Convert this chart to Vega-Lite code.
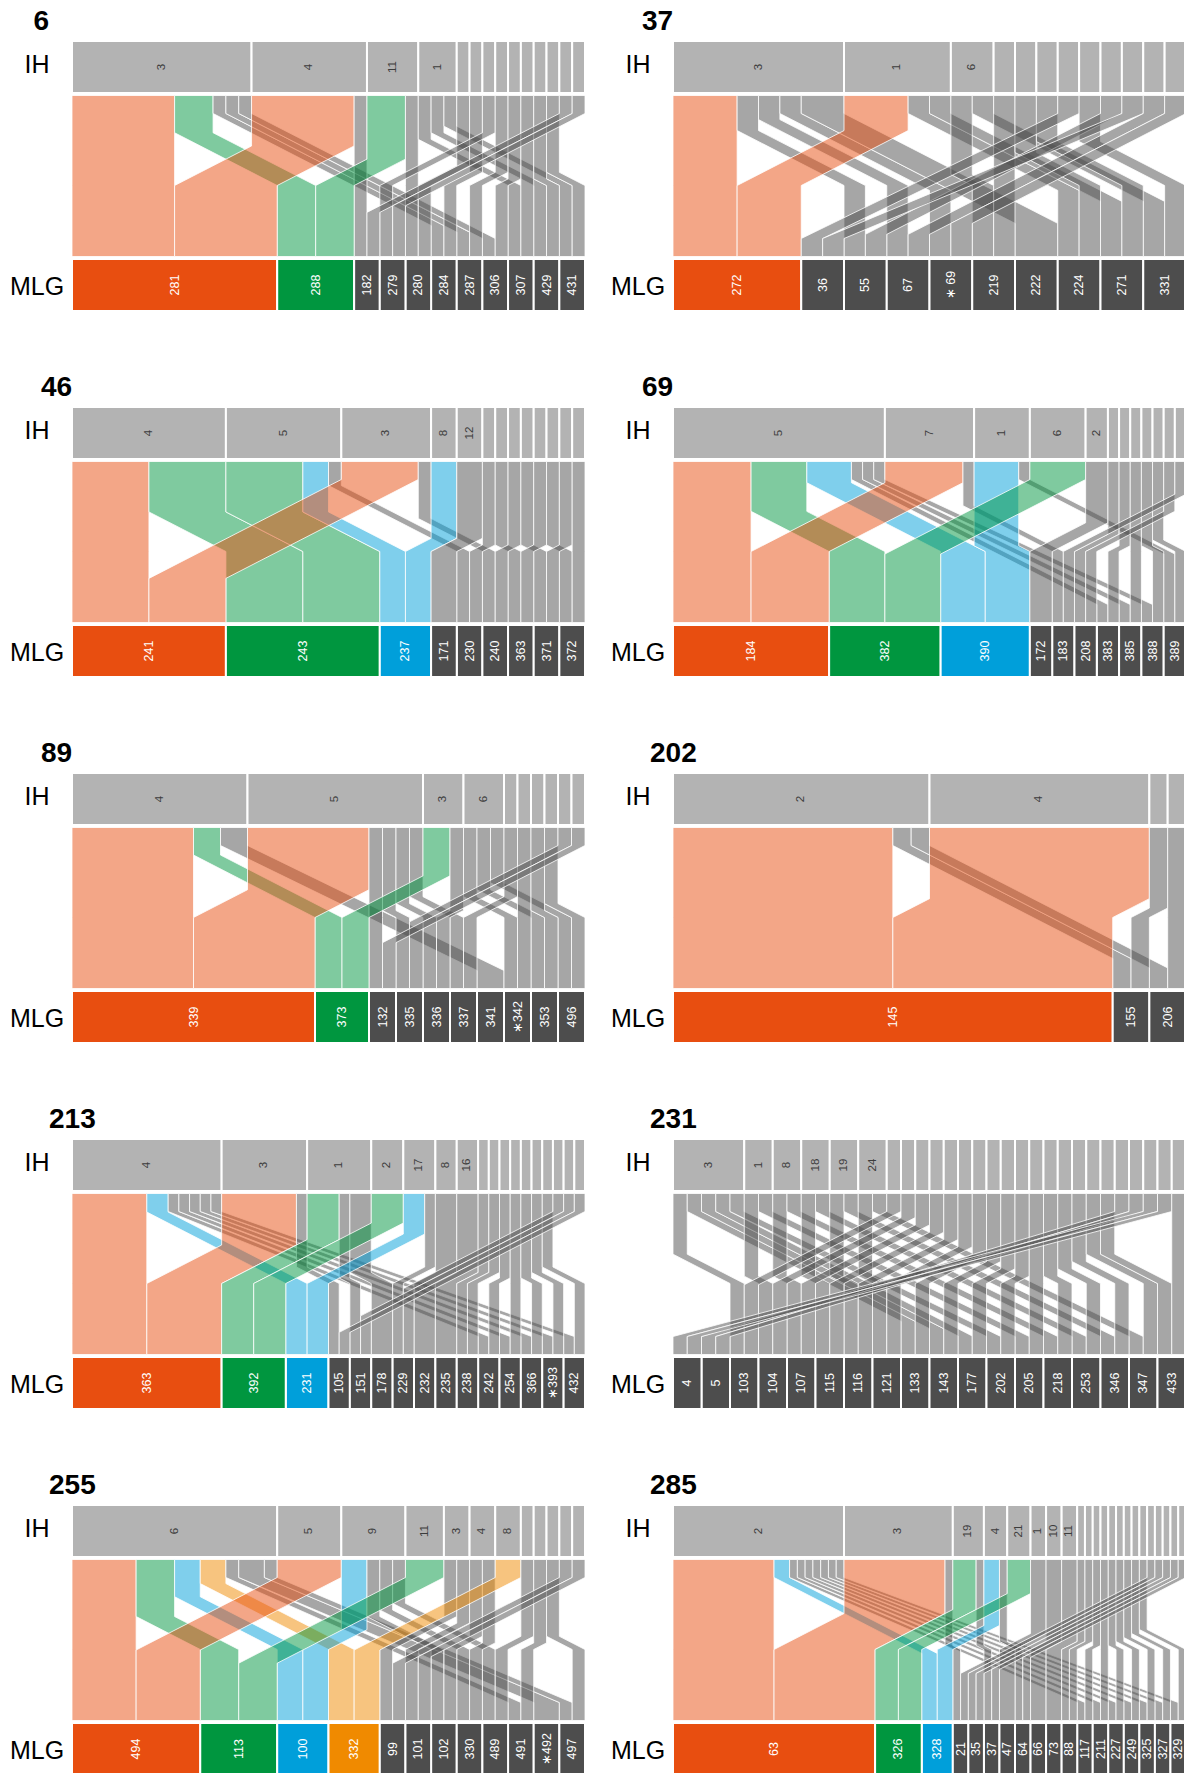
{"$schema":"https://vega.github.io/schema/vega-lite/v6.json","padding":{"left":9,"top":8,"right":0,"bottom":0},"columns":2,"spacing":{"row":96,"column":88},"bounds":"flush","resolve":{"scale":{"x":"independent","y":"independent"}},
"config":{"view":{"stroke":null},"font":"Liberation Sans","title":{"anchor":"start","frame":"group","fontSize":28,"fontWeight":"bold","offset":4,"color":"black","baseline":"alphabetic"},"axisY":{"domain":false,"ticks":false,"tickSize":0,"grid":false,"labelFontSize":25,"labelColor":"black","labelAlign":"center","labelPadding":35.5,"labelOverlap":false,"labelFlush":false,"labelFont":"Liberation Sans"}},
"datasets":{"f":[
{"p":"6","i":"3","io":0,"m":"281","mo":0,"n":8},{"p":"6","i":"3","io":0,"m":"288","mo":1,"n":3},{"p":"6","i":"3","io":0,"m":"284","mo":5,"n":1},{"p":"6","i":"3","io":0,"m":"287","mo":6,"n":1},{"p":"6","i":"3","io":0,"m":"306","mo":7,"n":1},
{"p":"6","i":"4","io":1,"m":"281","mo":0,"n":8},{"p":"6","i":"4","io":1,"m":"182","mo":2,"n":1},
{"p":"6","i":"11","io":2,"m":"288","mo":1,"n":3},{"p":"6","i":"11","io":2,"m":"280","mo":4,"n":1},
{"p":"6","i":"1","io":3,"m":"307","mo":8,"n":1},{"p":"6","i":"1","io":3,"m":"429","mo":9,"n":1},{"p":"6","i":"1","io":3,"m":"431","mo":10,"n":1},
{"p":"6","i":"","io":4,"m":"280","mo":4,"n":1},{"p":"6","i":"","io":5,"m":"284","mo":5,"n":1},{"p":"6","i":"","io":6,"m":"279","mo":3,"n":1},{"p":"6","i":"","io":7,"m":"287","mo":6,"n":1},{"p":"6","i":"","io":8,"m":"306","mo":7,"n":1},{"p":"6","i":"","io":9,"m":"307","mo":8,"n":1},{"p":"6","i":"","io":10,"m":"429","mo":9,"n":1},{"p":"6","i":"","io":11,"m":"431","mo":10,"n":1},{"p":"6","i":"","io":12,"m":"182","mo":2,"n":1},{"p":"6","i":"","io":13,"m":"279","mo":3,"n":1},
{"p":"37","i":"3","io":0,"m":"272","mo":0,"n":3},{"p":"37","i":"3","io":0,"m":"55","mo":2,"n":1},{"p":"37","i":"3","io":0,"m":"67","mo":3,"n":1},{"p":"37","i":"3","io":0,"m":"∗ 69","mo":4,"n":1},{"p":"37","i":"3","io":0,"m":"222","mo":6,"n":2},
{"p":"37","i":"1","io":1,"m":"272","mo":0,"n":3},{"p":"37","i":"1","io":1,"m":"224","mo":7,"n":1},{"p":"37","i":"1","io":1,"m":"271","mo":8,"n":1},
{"p":"37","i":"6","io":2,"m":"219","mo":5,"n":1},{"p":"37","i":"6","io":2,"m":"331","mo":9,"n":1},
{"p":"37","i":"","io":3,"m":"219","mo":5,"n":1},{"p":"37","i":"","io":4,"m":"224","mo":7,"n":1},{"p":"37","i":"","io":5,"m":"271","mo":8,"n":1},{"p":"37","i":"","io":6,"m":"36","mo":1,"n":1},{"p":"37","i":"","io":7,"m":"331","mo":9,"n":1},{"p":"37","i":"","io":8,"m":"55","mo":2,"n":1},{"p":"37","i":"","io":9,"m":"36","mo":1,"n":1},{"p":"37","i":"","io":10,"m":"67","mo":3,"n":1},{"p":"37","i":"","io":11,"m":"∗ 69","mo":4,"n":1},
{"p":"46","i":"4","io":0,"m":"241","mo":0,"n":6},{"p":"46","i":"4","io":0,"m":"243","mo":1,"n":6},
{"p":"46","i":"5","io":1,"m":"243","mo":1,"n":6},{"p":"46","i":"5","io":1,"m":"237","mo":2,"n":2},{"p":"46","i":"5","io":1,"m":"230","mo":4,"n":1},
{"p":"46","i":"3","io":2,"m":"241","mo":0,"n":6},{"p":"46","i":"3","io":2,"m":"240","mo":5,"n":1},
{"p":"46","i":"8","io":3,"m":"237","mo":2,"n":2},{"p":"46","i":"12","io":4,"m":"171","mo":3,"n":2},
{"p":"46","i":"","io":5,"m":"230","mo":4,"n":1},{"p":"46","i":"","io":6,"m":"363","mo":6,"n":1},{"p":"46","i":"","io":7,"m":"240","mo":5,"n":1},{"p":"46","i":"","io":8,"m":"371","mo":7,"n":1},{"p":"46","i":"","io":9,"m":"363","mo":6,"n":1},{"p":"46","i":"","io":10,"m":"372","mo":8,"n":1},{"p":"46","i":"","io":11,"m":"371","mo":7,"n":1},{"p":"46","i":"","io":12,"m":"372","mo":8,"n":1},
{"p":"69","i":"5","io":0,"m":"184","mo":0,"n":7},{"p":"69","i":"5","io":0,"m":"382","mo":1,"n":5},{"p":"69","i":"5","io":0,"m":"390","mo":2,"n":4},{"p":"69","i":"5","io":0,"m":"383","mo":6,"n":1},{"p":"69","i":"5","io":0,"m":"385","mo":7,"n":1},{"p":"69","i":"5","io":0,"m":"388","mo":8,"n":1},
{"p":"69","i":"7","io":1,"m":"184","mo":0,"n":7},{"p":"69","i":"7","io":1,"m":"183","mo":4,"n":1},
{"p":"69","i":"1","io":2,"m":"390","mo":2,"n":4},{"p":"69","i":"1","io":2,"m":"389","mo":9,"n":1},
{"p":"69","i":"6","io":3,"m":"382","mo":1,"n":5},{"p":"69","i":"2","io":4,"m":"172","mo":3,"n":2},
{"p":"69","i":"","io":5,"m":"208","mo":5,"n":1},{"p":"69","i":"","io":6,"m":"383","mo":6,"n":1},{"p":"69","i":"","io":7,"m":"385","mo":7,"n":1},{"p":"69","i":"","io":8,"m":"388","mo":8,"n":1},{"p":"69","i":"","io":9,"m":"389","mo":9,"n":1},{"p":"69","i":"","io":10,"m":"208","mo":5,"n":1},{"p":"69","i":"","io":11,"m":"183","mo":4,"n":1},
{"p":"89","i":"4","io":0,"m":"339","mo":0,"n":9},{"p":"89","i":"4","io":0,"m":"373","mo":1,"n":2},{"p":"89","i":"4","io":0,"m":"341","mo":6,"n":2},
{"p":"89","i":"5","io":1,"m":"339","mo":0,"n":9},{"p":"89","i":"5","io":1,"m":"132","mo":2,"n":1},{"p":"89","i":"5","io":1,"m":"335","mo":3,"n":1},{"p":"89","i":"5","io":1,"m":"336","mo":4,"n":1},{"p":"89","i":"5","io":1,"m":"337","mo":5,"n":1},
{"p":"89","i":"3","io":2,"m":"373","mo":1,"n":2},{"p":"89","i":"3","io":2,"m":"336","mo":4,"n":1},
{"p":"89","i":"6","io":3,"m":"∗342","mo":7,"n":1},{"p":"89","i":"6","io":3,"m":"353","mo":8,"n":1},{"p":"89","i":"6","io":3,"m":"496","mo":9,"n":1},
{"p":"89","i":"","io":4,"m":"337","mo":5,"n":1},{"p":"89","i":"","io":5,"m":"∗342","mo":7,"n":1},{"p":"89","i":"","io":6,"m":"353","mo":8,"n":1},{"p":"89","i":"","io":7,"m":"496","mo":9,"n":1},{"p":"89","i":"","io":8,"m":"335","mo":3,"n":1},{"p":"89","i":"","io":9,"m":"132","mo":2,"n":1},
{"p":"202","i":"2","io":0,"m":"145","mo":0,"n":12},{"p":"202","i":"2","io":0,"m":"155","mo":1,"n":1},{"p":"202","i":"2","io":0,"m":"206","mo":2,"n":1},
{"p":"202","i":"4","io":1,"m":"145","mo":0,"n":12},{"p":"202","i":"","io":2,"m":"155","mo":1,"n":1},{"p":"202","i":"","io":3,"m":"206","mo":2,"n":1},
{"p":"213","i":"4","io":0,"m":"363","mo":0,"n":7},{"p":"213","i":"4","io":0,"m":"231","mo":2,"n":2},{"p":"213","i":"4","io":0,"m":"242","mo":10,"n":1},{"p":"213","i":"4","io":0,"m":"254","mo":11,"n":1},{"p":"213","i":"4","io":0,"m":"366","mo":12,"n":1},{"p":"213","i":"4","io":0,"m":"∗393","mo":13,"n":1},{"p":"213","i":"4","io":0,"m":"432","mo":14,"n":1},
{"p":"213","i":"3","io":1,"m":"363","mo":0,"n":7},{"p":"213","i":"3","io":1,"m":"105","mo":3,"n":1},
{"p":"213","i":"1","io":2,"m":"392","mo":1,"n":3},{"p":"213","i":"1","io":2,"m":"151","mo":4,"n":1},{"p":"213","i":"1","io":2,"m":"178","mo":5,"n":2},
{"p":"213","i":"2","io":3,"m":"392","mo":1,"n":3},
{"p":"213","i":"17","io":4,"m":"231","mo":2,"n":2},{"p":"213","i":"17","io":4,"m":"229","mo":6,"n":1},
{"p":"213","i":"8","io":5,"m":"232","mo":7,"n":2},{"p":"213","i":"16","io":6,"m":"235","mo":8,"n":2},
{"p":"213","i":"","io":7,"m":"238","mo":9,"n":1},{"p":"213","i":"","io":8,"m":"238","mo":9,"n":1},{"p":"213","i":"","io":9,"m":"242","mo":10,"n":1},{"p":"213","i":"","io":10,"m":"254","mo":11,"n":1},{"p":"213","i":"","io":11,"m":"366","mo":12,"n":1},{"p":"213","i":"","io":12,"m":"∗393","mo":13,"n":1},{"p":"213","i":"","io":13,"m":"432","mo":14,"n":1},{"p":"213","i":"","io":14,"m":"229","mo":6,"n":1},{"p":"213","i":"","io":15,"m":"151","mo":4,"n":1},{"p":"213","i":"","io":16,"m":"105","mo":3,"n":1},
{"p":"231","i":"3","io":0,"m":"103","mo":2,"n":1},{"p":"231","i":"3","io":0,"m":"133","mo":8,"n":1},{"p":"231","i":"3","io":0,"m":"143","mo":9,"n":1},{"p":"231","i":"3","io":0,"m":"177","mo":10,"n":1},{"p":"231","i":"3","io":0,"m":"202","mo":11,"n":1},
{"p":"231","i":"1","io":1,"m":"104","mo":3,"n":1},{"p":"231","i":"1","io":1,"m":"205","mo":12,"n":1},
{"p":"231","i":"8","io":2,"m":"107","mo":4,"n":1},{"p":"231","i":"8","io":2,"m":"218","mo":13,"n":1},
{"p":"231","i":"18","io":3,"m":"115","mo":5,"n":1},{"p":"231","i":"18","io":3,"m":"253","mo":14,"n":1},
{"p":"231","i":"19","io":4,"m":"116","mo":6,"n":1},{"p":"231","i":"19","io":4,"m":"346","mo":15,"n":1},
{"p":"231","i":"24","io":5,"m":"121","mo":7,"n":1},{"p":"231","i":"24","io":5,"m":"347","mo":16,"n":1},
{"p":"231","i":"","io":6,"m":"103","mo":2,"n":1},{"p":"231","i":"","io":7,"m":"104","mo":3,"n":1},{"p":"231","i":"","io":8,"m":"107","mo":4,"n":1},{"p":"231","i":"","io":9,"m":"115","mo":5,"n":1},{"p":"231","i":"","io":10,"m":"116","mo":6,"n":1},{"p":"231","i":"","io":11,"m":"121","mo":7,"n":1},{"p":"231","i":"","io":12,"m":"133","mo":8,"n":1},{"p":"231","i":"","io":13,"m":"143","mo":9,"n":1},{"p":"231","i":"","io":14,"m":"177","mo":10,"n":1},{"p":"231","i":"","io":15,"m":"202","mo":11,"n":1},{"p":"231","i":"","io":16,"m":"205","mo":12,"n":1},{"p":"231","i":"","io":17,"m":"218","mo":13,"n":1},{"p":"231","i":"","io":18,"m":"253","mo":14,"n":1},{"p":"231","i":"","io":19,"m":"346","mo":15,"n":1},{"p":"231","i":"","io":20,"m":"347","mo":16,"n":1},{"p":"231","i":"","io":21,"m":"433","mo":17,"n":1},{"p":"231","i":"","io":22,"m":"5","mo":1,"n":1},{"p":"231","i":"","io":23,"m":"5","mo":1,"n":1},{"p":"231","i":"","io":24,"m":"4","mo":0,"n":1},{"p":"231","i":"","io":25,"m":"4","mo":0,"n":1},{"p":"231","i":"","io":26,"m":"433","mo":17,"n":1},
{"p":"255","i":"6","io":0,"m":"494","mo":0,"n":5},{"p":"255","i":"6","io":0,"m":"113","mo":1,"n":3},{"p":"255","i":"6","io":0,"m":"100","mo":2,"n":2},{"p":"255","i":"6","io":0,"m":"332","mo":3,"n":2},{"p":"255","i":"6","io":0,"m":"491","mo":9,"n":1},{"p":"255","i":"6","io":0,"m":"∗492","mo":10,"n":2},{"p":"255","i":"6","io":0,"m":"497","mo":11,"n":1},
{"p":"255","i":"5","io":1,"m":"494","mo":0,"n":5},
{"p":"255","i":"9","io":2,"m":"100","mo":2,"n":2},{"p":"255","i":"9","io":2,"m":"102","mo":6,"n":1},{"p":"255","i":"9","io":2,"m":"330","mo":7,"n":1},{"p":"255","i":"9","io":2,"m":"489","mo":8,"n":1},
{"p":"255","i":"11","io":3,"m":"113","mo":1,"n":3},
{"p":"255","i":"3","io":4,"m":"99","mo":4,"n":1},{"p":"255","i":"3","io":4,"m":"101","mo":5,"n":1},
{"p":"255","i":"4","io":5,"m":"102","mo":6,"n":1},{"p":"255","i":"4","io":5,"m":"330","mo":7,"n":1},
{"p":"255","i":"8","io":6,"m":"332","mo":3,"n":2},
{"p":"255","i":"","io":7,"m":"489","mo":8,"n":1},{"p":"255","i":"","io":8,"m":"491","mo":9,"n":1},{"p":"255","i":"","io":9,"m":"497","mo":11,"n":1},{"p":"255","i":"","io":10,"m":"99","mo":4,"n":1},{"p":"255","i":"","io":11,"m":"101","mo":5,"n":1},
{"p":"285","i":"2","io":0,"m":"63","mo":0,"n":13},{"p":"285","i":"2","io":0,"m":"328","mo":2,"n":2},{"p":"285","i":"2","io":0,"m":"117","mo":11,"n":1},{"p":"285","i":"2","io":0,"m":"211","mo":12,"n":1},{"p":"285","i":"2","io":0,"m":"227","mo":13,"n":1},{"p":"285","i":"2","io":0,"m":"249","mo":14,"n":1},{"p":"285","i":"2","io":0,"m":"325","mo":15,"n":1},{"p":"285","i":"2","io":0,"m":"327","mo":16,"n":1},{"p":"285","i":"2","io":0,"m":"329","mo":17,"n":1},
{"p":"285","i":"3","io":1,"m":"63","mo":0,"n":13},{"p":"285","i":"3","io":1,"m":"21","mo":3,"n":1},
{"p":"285","i":"19","io":2,"m":"326","mo":1,"n":3},{"p":"285","i":"19","io":2,"m":"37","mo":5,"n":1},
{"p":"285","i":"4","io":3,"m":"328","mo":2,"n":2},{"p":"285","i":"4","io":3,"m":"64","mo":7,"n":1},
{"p":"285","i":"21","io":4,"m":"326","mo":1,"n":3},
{"p":"285","i":"1","io":5,"m":"47","mo":6,"n":2},{"p":"285","i":"10","io":6,"m":"66","mo":8,"n":2},{"p":"285","i":"11","io":7,"m":"73","mo":9,"n":2},
{"p":"285","i":"","io":8,"m":"88","mo":10,"n":1},{"p":"285","i":"","io":9,"m":"88","mo":10,"n":1},{"p":"285","i":"","io":10,"m":"117","mo":11,"n":1},{"p":"285","i":"","io":11,"m":"211","mo":12,"n":1},{"p":"285","i":"","io":12,"m":"227","mo":13,"n":1},{"p":"285","i":"","io":13,"m":"249","mo":14,"n":1},{"p":"285","i":"","io":14,"m":"325","mo":15,"n":1},{"p":"285","i":"","io":15,"m":"327","mo":16,"n":1},{"p":"285","i":"","io":16,"m":"329","mo":17,"n":1},{"p":"285","i":"","io":17,"m":"21","mo":3,"n":1},{"p":"285","i":"","io":18,"m":"35","mo":4,"n":1},{"p":"285","i":"","io":19,"m":"35","mo":4,"n":1},{"p":"285","i":"","io":20,"m":"37","mo":5,"n":1},{"p":"285","i":"","io":21,"m":"64","mo":7,"n":1}
]},
"concat":[
{"title":{"text":"6","dx":-38.5},"width":513,"height":270,"data":{"name":"f"},"transform":[{"filter":"datum.p=='6'"},{"joinaggregate":[{"op":"sum","field":"n","as":"N"}]},{"joinaggregate":[{"op":"sum","field":"n","as":"ms"}],"groupby":["mo"]},{"window":[{"op":"sum","field":"n","as":"ih1"}],"sort":[{"field":"io"},{"field":"mo"}],"frame":[null,0]},{"window":[{"op":"sum","field":"n","as":"m1"}],"sort":[{"field":"mo"},{"field":"io"}],"frame":[null,0]},{"calculate":"datum.ih1-datum.n","as":"ih0"},{"calculate":"datum.m1-datum.n","as":"m0"},{"calculate":"datum.ms>2?'c'+datum.mo:'k'","as":"cls"}],"layer":[
{"transform":[{"calculate":"min(0.514*abs(datum.m0-datum.ih0)*513/datum.N,125)","as":"h"},{"calculate":"215.5-max(18,90-datum.h)","as":"yb"},{"calculate":"[215.5,datum.yb,datum.yb-datum.h,54.5]","as":"ry"},{"calculate":"[datum.ih0,datum.ih0,datum.m0,datum.m0]","as":"rx"},{"flatten":["ry","rx"]},{"calculate":"datum.rx+datum.n","as":"rx2"}],"mark":{"type":"area","orient":"horizontal","fillOpacity":0.5,"stroke":"white","strokeWidth":0.8},"encoding":{"y":{"field":"ry","type":"quantitative","scale":{"domain":[0,270],"nice":false,"zero":false},"axis":{"values":[24.5,247],"labelExpr":"datum.value>150?'IH':'MLG'","title":null}},"x":{"field":"rx","type":"quantitative","stack":null,"scale":{"nice":false,"zero":true},"axis":null},"x2":{"field":"rx2"},"fill":{"field":"cls","type":"nominal","scale":{"domain":["c0","c1","c2","c3","k"],"range":["#E84E10","#00963F","#009FDA","#F08A00","#4D4D4D"]},"legend":null},"detail":[{"field":"io","type":"nominal"},{"field":"mo","type":"nominal"}]}},
{"transform":[{"aggregate":[{"op":"min","field":"ih0","as":"a"},{"op":"max","field":"ih1","as":"b"}],"groupby":["io","i"]}],"mark":{"type":"rect","fill":"#B3B3B3","stroke":"white","strokeWidth":2},"encoding":{"x":{"field":"a","type":"quantitative","axis":null},"x2":{"field":"b"},"y":{"datum":218},"y2":{"datum":270}}},
{"transform":[{"filter":"datum.i!=''"},{"aggregate":[{"op":"min","field":"ih0","as":"a"},{"op":"max","field":"ih1","as":"b"}],"groupby":["io","i"]},{"calculate":"(datum.a+datum.b)/2","as":"c"}],"mark":{"type":"text","angle":270,"fontSize":11.5,"fill":"#3C3C3C"},"encoding":{"x":{"field":"c","type":"quantitative","axis":null},"y":{"datum":244},"text":{"field":"i"}}},
{"transform":[{"aggregate":[{"op":"min","field":"m0","as":"a"},{"op":"max","field":"m1","as":"b"}],"groupby":["mo","m","cls"]}],"mark":{"type":"rect","stroke":"white","strokeWidth":2},"encoding":{"x":{"field":"a","type":"quantitative","axis":null},"x2":{"field":"b"},"y":{"datum":0},"y2":{"datum":52},"fill":{"field":"cls","type":"nominal","scale":{"domain":["c0","c1","c2","c3","k"],"range":["#E84E10","#00963F","#009FDA","#F08A00","#4D4D4D"]},"legend":null}}},
{"transform":[{"aggregate":[{"op":"min","field":"m0","as":"a"},{"op":"max","field":"m1","as":"b"}],"groupby":["mo","m"]},{"calculate":"(datum.a+datum.b)/2","as":"c"}],"mark":{"type":"text","angle":270,"fontSize":12.5,"fill":"white"},"encoding":{"x":{"field":"c","type":"quantitative","axis":null},"y":{"datum":26},"text":{"field":"m"}}}
]},
{"title":{"text":"37","dx":-31},"width":513,"height":270,"data":{"name":"f"},"transform":[{"filter":"datum.p=='37'"},{"joinaggregate":[{"op":"sum","field":"n","as":"N"}]},{"joinaggregate":[{"op":"sum","field":"n","as":"ms"}],"groupby":["mo"]},{"window":[{"op":"sum","field":"n","as":"ih1"}],"sort":[{"field":"io"},{"field":"mo"}],"frame":[null,0]},{"window":[{"op":"sum","field":"n","as":"m1"}],"sort":[{"field":"mo"},{"field":"io"}],"frame":[null,0]},{"calculate":"datum.ih1-datum.n","as":"ih0"},{"calculate":"datum.m1-datum.n","as":"m0"},{"calculate":"datum.ms>2?'c'+datum.mo:'k'","as":"cls"}],"layer":[
{"transform":[{"calculate":"min(0.514*abs(datum.m0-datum.ih0)*513/datum.N,125)","as":"h"},{"calculate":"215.5-max(18,90-datum.h)","as":"yb"},{"calculate":"[215.5,datum.yb,datum.yb-datum.h,54.5]","as":"ry"},{"calculate":"[datum.ih0,datum.ih0,datum.m0,datum.m0]","as":"rx"},{"flatten":["ry","rx"]},{"calculate":"datum.rx+datum.n","as":"rx2"}],"mark":{"type":"area","orient":"horizontal","fillOpacity":0.5,"stroke":"white","strokeWidth":0.8},"encoding":{"y":{"field":"ry","type":"quantitative","scale":{"domain":[0,270],"nice":false,"zero":false},"axis":{"values":[24.5,247],"labelExpr":"datum.value>150?'IH':'MLG'","title":null}},"x":{"field":"rx","type":"quantitative","stack":null,"scale":{"nice":false,"zero":true},"axis":null},"x2":{"field":"rx2"},"fill":{"field":"cls","type":"nominal","scale":{"domain":["c0","c1","c2","c3","k"],"range":["#E84E10","#00963F","#009FDA","#F08A00","#4D4D4D"]},"legend":null},"detail":[{"field":"io","type":"nominal"},{"field":"mo","type":"nominal"}]}},
{"transform":[{"aggregate":[{"op":"min","field":"ih0","as":"a"},{"op":"max","field":"ih1","as":"b"}],"groupby":["io","i"]}],"mark":{"type":"rect","fill":"#B3B3B3","stroke":"white","strokeWidth":2},"encoding":{"x":{"field":"a","type":"quantitative","axis":null},"x2":{"field":"b"},"y":{"datum":218},"y2":{"datum":270}}},
{"transform":[{"filter":"datum.i!=''"},{"aggregate":[{"op":"min","field":"ih0","as":"a"},{"op":"max","field":"ih1","as":"b"}],"groupby":["io","i"]},{"calculate":"(datum.a+datum.b)/2","as":"c"}],"mark":{"type":"text","angle":270,"fontSize":11.5,"fill":"#3C3C3C"},"encoding":{"x":{"field":"c","type":"quantitative","axis":null},"y":{"datum":244},"text":{"field":"i"}}},
{"transform":[{"aggregate":[{"op":"min","field":"m0","as":"a"},{"op":"max","field":"m1","as":"b"}],"groupby":["mo","m","cls"]}],"mark":{"type":"rect","stroke":"white","strokeWidth":2},"encoding":{"x":{"field":"a","type":"quantitative","axis":null},"x2":{"field":"b"},"y":{"datum":0},"y2":{"datum":52},"fill":{"field":"cls","type":"nominal","scale":{"domain":["c0","c1","c2","c3","k"],"range":["#E84E10","#00963F","#009FDA","#F08A00","#4D4D4D"]},"legend":null}}},
{"transform":[{"aggregate":[{"op":"min","field":"m0","as":"a"},{"op":"max","field":"m1","as":"b"}],"groupby":["mo","m"]},{"calculate":"(datum.a+datum.b)/2","as":"c"}],"mark":{"type":"text","angle":270,"fontSize":12.5,"fill":"white"},"encoding":{"x":{"field":"c","type":"quantitative","axis":null},"y":{"datum":26},"text":{"field":"m"}}}
]},
{"title":{"text":"46","dx":-31},"width":513,"height":270,"data":{"name":"f"},"transform":[{"filter":"datum.p=='46'"},{"joinaggregate":[{"op":"sum","field":"n","as":"N"}]},{"joinaggregate":[{"op":"sum","field":"n","as":"ms"}],"groupby":["mo"]},{"window":[{"op":"sum","field":"n","as":"ih1"}],"sort":[{"field":"io"},{"field":"mo"}],"frame":[null,0]},{"window":[{"op":"sum","field":"n","as":"m1"}],"sort":[{"field":"mo"},{"field":"io"}],"frame":[null,0]},{"calculate":"datum.ih1-datum.n","as":"ih0"},{"calculate":"datum.m1-datum.n","as":"m0"},{"calculate":"datum.ms>2?'c'+datum.mo:'k'","as":"cls"}],"layer":[
{"transform":[{"calculate":"min(0.514*abs(datum.m0-datum.ih0)*513/datum.N,125)","as":"h"},{"calculate":"215.5-max(18,90-datum.h)","as":"yb"},{"calculate":"[215.5,datum.yb,datum.yb-datum.h,54.5]","as":"ry"},{"calculate":"[datum.ih0,datum.ih0,datum.m0,datum.m0]","as":"rx"},{"flatten":["ry","rx"]},{"calculate":"datum.rx+datum.n","as":"rx2"}],"mark":{"type":"area","orient":"horizontal","fillOpacity":0.5,"stroke":"white","strokeWidth":0.8},"encoding":{"y":{"field":"ry","type":"quantitative","scale":{"domain":[0,270],"nice":false,"zero":false},"axis":{"values":[24.5,247],"labelExpr":"datum.value>150?'IH':'MLG'","title":null}},"x":{"field":"rx","type":"quantitative","stack":null,"scale":{"nice":false,"zero":true},"axis":null},"x2":{"field":"rx2"},"fill":{"field":"cls","type":"nominal","scale":{"domain":["c0","c1","c2","c3","k"],"range":["#E84E10","#00963F","#009FDA","#F08A00","#4D4D4D"]},"legend":null},"detail":[{"field":"io","type":"nominal"},{"field":"mo","type":"nominal"}]}},
{"transform":[{"aggregate":[{"op":"min","field":"ih0","as":"a"},{"op":"max","field":"ih1","as":"b"}],"groupby":["io","i"]}],"mark":{"type":"rect","fill":"#B3B3B3","stroke":"white","strokeWidth":2},"encoding":{"x":{"field":"a","type":"quantitative","axis":null},"x2":{"field":"b"},"y":{"datum":218},"y2":{"datum":270}}},
{"transform":[{"filter":"datum.i!=''"},{"aggregate":[{"op":"min","field":"ih0","as":"a"},{"op":"max","field":"ih1","as":"b"}],"groupby":["io","i"]},{"calculate":"(datum.a+datum.b)/2","as":"c"}],"mark":{"type":"text","angle":270,"fontSize":11.5,"fill":"#3C3C3C"},"encoding":{"x":{"field":"c","type":"quantitative","axis":null},"y":{"datum":244},"text":{"field":"i"}}},
{"transform":[{"aggregate":[{"op":"min","field":"m0","as":"a"},{"op":"max","field":"m1","as":"b"}],"groupby":["mo","m","cls"]}],"mark":{"type":"rect","stroke":"white","strokeWidth":2},"encoding":{"x":{"field":"a","type":"quantitative","axis":null},"x2":{"field":"b"},"y":{"datum":0},"y2":{"datum":52},"fill":{"field":"cls","type":"nominal","scale":{"domain":["c0","c1","c2","c3","k"],"range":["#E84E10","#00963F","#009FDA","#F08A00","#4D4D4D"]},"legend":null}}},
{"transform":[{"aggregate":[{"op":"min","field":"m0","as":"a"},{"op":"max","field":"m1","as":"b"}],"groupby":["mo","m"]},{"calculate":"(datum.a+datum.b)/2","as":"c"}],"mark":{"type":"text","angle":270,"fontSize":12.5,"fill":"white"},"encoding":{"x":{"field":"c","type":"quantitative","axis":null},"y":{"datum":26},"text":{"field":"m"}}}
]},
{"title":{"text":"69","dx":-31},"width":513,"height":270,"data":{"name":"f"},"transform":[{"filter":"datum.p=='69'"},{"joinaggregate":[{"op":"sum","field":"n","as":"N"}]},{"joinaggregate":[{"op":"sum","field":"n","as":"ms"}],"groupby":["mo"]},{"window":[{"op":"sum","field":"n","as":"ih1"}],"sort":[{"field":"io"},{"field":"mo"}],"frame":[null,0]},{"window":[{"op":"sum","field":"n","as":"m1"}],"sort":[{"field":"mo"},{"field":"io"}],"frame":[null,0]},{"calculate":"datum.ih1-datum.n","as":"ih0"},{"calculate":"datum.m1-datum.n","as":"m0"},{"calculate":"datum.ms>2?'c'+datum.mo:'k'","as":"cls"}],"layer":[
{"transform":[{"calculate":"min(0.514*abs(datum.m0-datum.ih0)*513/datum.N,125)","as":"h"},{"calculate":"215.5-max(18,90-datum.h)","as":"yb"},{"calculate":"[215.5,datum.yb,datum.yb-datum.h,54.5]","as":"ry"},{"calculate":"[datum.ih0,datum.ih0,datum.m0,datum.m0]","as":"rx"},{"flatten":["ry","rx"]},{"calculate":"datum.rx+datum.n","as":"rx2"}],"mark":{"type":"area","orient":"horizontal","fillOpacity":0.5,"stroke":"white","strokeWidth":0.8},"encoding":{"y":{"field":"ry","type":"quantitative","scale":{"domain":[0,270],"nice":false,"zero":false},"axis":{"values":[24.5,247],"labelExpr":"datum.value>150?'IH':'MLG'","title":null}},"x":{"field":"rx","type":"quantitative","stack":null,"scale":{"nice":false,"zero":true},"axis":null},"x2":{"field":"rx2"},"fill":{"field":"cls","type":"nominal","scale":{"domain":["c0","c1","c2","c3","k"],"range":["#E84E10","#00963F","#009FDA","#F08A00","#4D4D4D"]},"legend":null},"detail":[{"field":"io","type":"nominal"},{"field":"mo","type":"nominal"}]}},
{"transform":[{"aggregate":[{"op":"min","field":"ih0","as":"a"},{"op":"max","field":"ih1","as":"b"}],"groupby":["io","i"]}],"mark":{"type":"rect","fill":"#B3B3B3","stroke":"white","strokeWidth":2},"encoding":{"x":{"field":"a","type":"quantitative","axis":null},"x2":{"field":"b"},"y":{"datum":218},"y2":{"datum":270}}},
{"transform":[{"filter":"datum.i!=''"},{"aggregate":[{"op":"min","field":"ih0","as":"a"},{"op":"max","field":"ih1","as":"b"}],"groupby":["io","i"]},{"calculate":"(datum.a+datum.b)/2","as":"c"}],"mark":{"type":"text","angle":270,"fontSize":11.5,"fill":"#3C3C3C"},"encoding":{"x":{"field":"c","type":"quantitative","axis":null},"y":{"datum":244},"text":{"field":"i"}}},
{"transform":[{"aggregate":[{"op":"min","field":"m0","as":"a"},{"op":"max","field":"m1","as":"b"}],"groupby":["mo","m","cls"]}],"mark":{"type":"rect","stroke":"white","strokeWidth":2},"encoding":{"x":{"field":"a","type":"quantitative","axis":null},"x2":{"field":"b"},"y":{"datum":0},"y2":{"datum":52},"fill":{"field":"cls","type":"nominal","scale":{"domain":["c0","c1","c2","c3","k"],"range":["#E84E10","#00963F","#009FDA","#F08A00","#4D4D4D"]},"legend":null}}},
{"transform":[{"aggregate":[{"op":"min","field":"m0","as":"a"},{"op":"max","field":"m1","as":"b"}],"groupby":["mo","m"]},{"calculate":"(datum.a+datum.b)/2","as":"c"}],"mark":{"type":"text","angle":270,"fontSize":12.5,"fill":"white"},"encoding":{"x":{"field":"c","type":"quantitative","axis":null},"y":{"datum":26},"text":{"field":"m"}}}
]},
{"title":{"text":"89","dx":-31},"width":513,"height":270,"data":{"name":"f"},"transform":[{"filter":"datum.p=='89'"},{"joinaggregate":[{"op":"sum","field":"n","as":"N"}]},{"joinaggregate":[{"op":"sum","field":"n","as":"ms"}],"groupby":["mo"]},{"window":[{"op":"sum","field":"n","as":"ih1"}],"sort":[{"field":"io"},{"field":"mo"}],"frame":[null,0]},{"window":[{"op":"sum","field":"n","as":"m1"}],"sort":[{"field":"mo"},{"field":"io"}],"frame":[null,0]},{"calculate":"datum.ih1-datum.n","as":"ih0"},{"calculate":"datum.m1-datum.n","as":"m0"},{"calculate":"datum.ms>2?'c'+datum.mo:'k'","as":"cls"}],"layer":[
{"transform":[{"calculate":"min(0.514*abs(datum.m0-datum.ih0)*513/datum.N,125)","as":"h"},{"calculate":"215.5-max(18,90-datum.h)","as":"yb"},{"calculate":"[215.5,datum.yb,datum.yb-datum.h,54.5]","as":"ry"},{"calculate":"[datum.ih0,datum.ih0,datum.m0,datum.m0]","as":"rx"},{"flatten":["ry","rx"]},{"calculate":"datum.rx+datum.n","as":"rx2"}],"mark":{"type":"area","orient":"horizontal","fillOpacity":0.5,"stroke":"white","strokeWidth":0.8},"encoding":{"y":{"field":"ry","type":"quantitative","scale":{"domain":[0,270],"nice":false,"zero":false},"axis":{"values":[24.5,247],"labelExpr":"datum.value>150?'IH':'MLG'","title":null}},"x":{"field":"rx","type":"quantitative","stack":null,"scale":{"nice":false,"zero":true},"axis":null},"x2":{"field":"rx2"},"fill":{"field":"cls","type":"nominal","scale":{"domain":["c0","c1","c2","c3","k"],"range":["#E84E10","#00963F","#009FDA","#F08A00","#4D4D4D"]},"legend":null},"detail":[{"field":"io","type":"nominal"},{"field":"mo","type":"nominal"}]}},
{"transform":[{"aggregate":[{"op":"min","field":"ih0","as":"a"},{"op":"max","field":"ih1","as":"b"}],"groupby":["io","i"]}],"mark":{"type":"rect","fill":"#B3B3B3","stroke":"white","strokeWidth":2},"encoding":{"x":{"field":"a","type":"quantitative","axis":null},"x2":{"field":"b"},"y":{"datum":218},"y2":{"datum":270}}},
{"transform":[{"filter":"datum.i!=''"},{"aggregate":[{"op":"min","field":"ih0","as":"a"},{"op":"max","field":"ih1","as":"b"}],"groupby":["io","i"]},{"calculate":"(datum.a+datum.b)/2","as":"c"}],"mark":{"type":"text","angle":270,"fontSize":11.5,"fill":"#3C3C3C"},"encoding":{"x":{"field":"c","type":"quantitative","axis":null},"y":{"datum":244},"text":{"field":"i"}}},
{"transform":[{"aggregate":[{"op":"min","field":"m0","as":"a"},{"op":"max","field":"m1","as":"b"}],"groupby":["mo","m","cls"]}],"mark":{"type":"rect","stroke":"white","strokeWidth":2},"encoding":{"x":{"field":"a","type":"quantitative","axis":null},"x2":{"field":"b"},"y":{"datum":0},"y2":{"datum":52},"fill":{"field":"cls","type":"nominal","scale":{"domain":["c0","c1","c2","c3","k"],"range":["#E84E10","#00963F","#009FDA","#F08A00","#4D4D4D"]},"legend":null}}},
{"transform":[{"aggregate":[{"op":"min","field":"m0","as":"a"},{"op":"max","field":"m1","as":"b"}],"groupby":["mo","m"]},{"calculate":"(datum.a+datum.b)/2","as":"c"}],"mark":{"type":"text","angle":270,"fontSize":12.5,"fill":"white"},"encoding":{"x":{"field":"c","type":"quantitative","axis":null},"y":{"datum":26},"text":{"field":"m"}}}
]},
{"title":{"text":"202","dx":-23},"width":513,"height":270,"data":{"name":"f"},"transform":[{"filter":"datum.p=='202'"},{"joinaggregate":[{"op":"sum","field":"n","as":"N"}]},{"joinaggregate":[{"op":"sum","field":"n","as":"ms"}],"groupby":["mo"]},{"window":[{"op":"sum","field":"n","as":"ih1"}],"sort":[{"field":"io"},{"field":"mo"}],"frame":[null,0]},{"window":[{"op":"sum","field":"n","as":"m1"}],"sort":[{"field":"mo"},{"field":"io"}],"frame":[null,0]},{"calculate":"datum.ih1-datum.n","as":"ih0"},{"calculate":"datum.m1-datum.n","as":"m0"},{"calculate":"datum.ms>2?'c'+datum.mo:'k'","as":"cls"}],"layer":[
{"transform":[{"calculate":"min(0.514*abs(datum.m0-datum.ih0)*513/datum.N,125)","as":"h"},{"calculate":"215.5-max(18,90-datum.h)","as":"yb"},{"calculate":"[215.5,datum.yb,datum.yb-datum.h,54.5]","as":"ry"},{"calculate":"[datum.ih0,datum.ih0,datum.m0,datum.m0]","as":"rx"},{"flatten":["ry","rx"]},{"calculate":"datum.rx+datum.n","as":"rx2"}],"mark":{"type":"area","orient":"horizontal","fillOpacity":0.5,"stroke":"white","strokeWidth":0.8},"encoding":{"y":{"field":"ry","type":"quantitative","scale":{"domain":[0,270],"nice":false,"zero":false},"axis":{"values":[24.5,247],"labelExpr":"datum.value>150?'IH':'MLG'","title":null}},"x":{"field":"rx","type":"quantitative","stack":null,"scale":{"nice":false,"zero":true},"axis":null},"x2":{"field":"rx2"},"fill":{"field":"cls","type":"nominal","scale":{"domain":["c0","c1","c2","c3","k"],"range":["#E84E10","#00963F","#009FDA","#F08A00","#4D4D4D"]},"legend":null},"detail":[{"field":"io","type":"nominal"},{"field":"mo","type":"nominal"}]}},
{"transform":[{"aggregate":[{"op":"min","field":"ih0","as":"a"},{"op":"max","field":"ih1","as":"b"}],"groupby":["io","i"]}],"mark":{"type":"rect","fill":"#B3B3B3","stroke":"white","strokeWidth":2},"encoding":{"x":{"field":"a","type":"quantitative","axis":null},"x2":{"field":"b"},"y":{"datum":218},"y2":{"datum":270}}},
{"transform":[{"filter":"datum.i!=''"},{"aggregate":[{"op":"min","field":"ih0","as":"a"},{"op":"max","field":"ih1","as":"b"}],"groupby":["io","i"]},{"calculate":"(datum.a+datum.b)/2","as":"c"}],"mark":{"type":"text","angle":270,"fontSize":11.5,"fill":"#3C3C3C"},"encoding":{"x":{"field":"c","type":"quantitative","axis":null},"y":{"datum":244},"text":{"field":"i"}}},
{"transform":[{"aggregate":[{"op":"min","field":"m0","as":"a"},{"op":"max","field":"m1","as":"b"}],"groupby":["mo","m","cls"]}],"mark":{"type":"rect","stroke":"white","strokeWidth":2},"encoding":{"x":{"field":"a","type":"quantitative","axis":null},"x2":{"field":"b"},"y":{"datum":0},"y2":{"datum":52},"fill":{"field":"cls","type":"nominal","scale":{"domain":["c0","c1","c2","c3","k"],"range":["#E84E10","#00963F","#009FDA","#F08A00","#4D4D4D"]},"legend":null}}},
{"transform":[{"aggregate":[{"op":"min","field":"m0","as":"a"},{"op":"max","field":"m1","as":"b"}],"groupby":["mo","m"]},{"calculate":"(datum.a+datum.b)/2","as":"c"}],"mark":{"type":"text","angle":270,"fontSize":12.5,"fill":"white"},"encoding":{"x":{"field":"c","type":"quantitative","axis":null},"y":{"datum":26},"text":{"field":"m"}}}
]},
{"title":{"text":"213","dx":-23},"width":513,"height":270,"data":{"name":"f"},"transform":[{"filter":"datum.p=='213'"},{"joinaggregate":[{"op":"sum","field":"n","as":"N"}]},{"joinaggregate":[{"op":"sum","field":"n","as":"ms"}],"groupby":["mo"]},{"window":[{"op":"sum","field":"n","as":"ih1"}],"sort":[{"field":"io"},{"field":"mo"}],"frame":[null,0]},{"window":[{"op":"sum","field":"n","as":"m1"}],"sort":[{"field":"mo"},{"field":"io"}],"frame":[null,0]},{"calculate":"datum.ih1-datum.n","as":"ih0"},{"calculate":"datum.m1-datum.n","as":"m0"},{"calculate":"datum.ms>2?'c'+datum.mo:'k'","as":"cls"}],"layer":[
{"transform":[{"calculate":"min(0.514*abs(datum.m0-datum.ih0)*513/datum.N,125)","as":"h"},{"calculate":"215.5-max(18,90-datum.h)","as":"yb"},{"calculate":"[215.5,datum.yb,datum.yb-datum.h,54.5]","as":"ry"},{"calculate":"[datum.ih0,datum.ih0,datum.m0,datum.m0]","as":"rx"},{"flatten":["ry","rx"]},{"calculate":"datum.rx+datum.n","as":"rx2"}],"mark":{"type":"area","orient":"horizontal","fillOpacity":0.5,"stroke":"white","strokeWidth":0.8},"encoding":{"y":{"field":"ry","type":"quantitative","scale":{"domain":[0,270],"nice":false,"zero":false},"axis":{"values":[24.5,247],"labelExpr":"datum.value>150?'IH':'MLG'","title":null}},"x":{"field":"rx","type":"quantitative","stack":null,"scale":{"nice":false,"zero":true},"axis":null},"x2":{"field":"rx2"},"fill":{"field":"cls","type":"nominal","scale":{"domain":["c0","c1","c2","c3","k"],"range":["#E84E10","#00963F","#009FDA","#F08A00","#4D4D4D"]},"legend":null},"detail":[{"field":"io","type":"nominal"},{"field":"mo","type":"nominal"}]}},
{"transform":[{"aggregate":[{"op":"min","field":"ih0","as":"a"},{"op":"max","field":"ih1","as":"b"}],"groupby":["io","i"]}],"mark":{"type":"rect","fill":"#B3B3B3","stroke":"white","strokeWidth":2},"encoding":{"x":{"field":"a","type":"quantitative","axis":null},"x2":{"field":"b"},"y":{"datum":218},"y2":{"datum":270}}},
{"transform":[{"filter":"datum.i!=''"},{"aggregate":[{"op":"min","field":"ih0","as":"a"},{"op":"max","field":"ih1","as":"b"}],"groupby":["io","i"]},{"calculate":"(datum.a+datum.b)/2","as":"c"}],"mark":{"type":"text","angle":270,"fontSize":11.5,"fill":"#3C3C3C"},"encoding":{"x":{"field":"c","type":"quantitative","axis":null},"y":{"datum":244},"text":{"field":"i"}}},
{"transform":[{"aggregate":[{"op":"min","field":"m0","as":"a"},{"op":"max","field":"m1","as":"b"}],"groupby":["mo","m","cls"]}],"mark":{"type":"rect","stroke":"white","strokeWidth":2},"encoding":{"x":{"field":"a","type":"quantitative","axis":null},"x2":{"field":"b"},"y":{"datum":0},"y2":{"datum":52},"fill":{"field":"cls","type":"nominal","scale":{"domain":["c0","c1","c2","c3","k"],"range":["#E84E10","#00963F","#009FDA","#F08A00","#4D4D4D"]},"legend":null}}},
{"transform":[{"aggregate":[{"op":"min","field":"m0","as":"a"},{"op":"max","field":"m1","as":"b"}],"groupby":["mo","m"]},{"calculate":"(datum.a+datum.b)/2","as":"c"}],"mark":{"type":"text","angle":270,"fontSize":12.5,"fill":"white"},"encoding":{"x":{"field":"c","type":"quantitative","axis":null},"y":{"datum":26},"text":{"field":"m"}}}
]},
{"title":{"text":"231","dx":-23},"width":513,"height":270,"data":{"name":"f"},"transform":[{"filter":"datum.p=='231'"},{"joinaggregate":[{"op":"sum","field":"n","as":"N"}]},{"joinaggregate":[{"op":"sum","field":"n","as":"ms"}],"groupby":["mo"]},{"window":[{"op":"sum","field":"n","as":"ih1"}],"sort":[{"field":"io"},{"field":"mo"}],"frame":[null,0]},{"window":[{"op":"sum","field":"n","as":"m1"}],"sort":[{"field":"mo"},{"field":"io"}],"frame":[null,0]},{"calculate":"datum.ih1-datum.n","as":"ih0"},{"calculate":"datum.m1-datum.n","as":"m0"},{"calculate":"datum.ms>2?'c'+datum.mo:'k'","as":"cls"}],"layer":[
{"transform":[{"calculate":"min(0.514*abs(datum.m0-datum.ih0)*513/datum.N,125)","as":"h"},{"calculate":"215.5-max(18,90-datum.h)","as":"yb"},{"calculate":"[215.5,datum.yb,datum.yb-datum.h,54.5]","as":"ry"},{"calculate":"[datum.ih0,datum.ih0,datum.m0,datum.m0]","as":"rx"},{"flatten":["ry","rx"]},{"calculate":"datum.rx+datum.n","as":"rx2"}],"mark":{"type":"area","orient":"horizontal","fillOpacity":0.5,"stroke":"white","strokeWidth":0.8},"encoding":{"y":{"field":"ry","type":"quantitative","scale":{"domain":[0,270],"nice":false,"zero":false},"axis":{"values":[24.5,247],"labelExpr":"datum.value>150?'IH':'MLG'","title":null}},"x":{"field":"rx","type":"quantitative","stack":null,"scale":{"nice":false,"zero":true},"axis":null},"x2":{"field":"rx2"},"fill":{"field":"cls","type":"nominal","scale":{"domain":["c0","c1","c2","c3","k"],"range":["#E84E10","#00963F","#009FDA","#F08A00","#4D4D4D"]},"legend":null},"detail":[{"field":"io","type":"nominal"},{"field":"mo","type":"nominal"}]}},
{"transform":[{"aggregate":[{"op":"min","field":"ih0","as":"a"},{"op":"max","field":"ih1","as":"b"}],"groupby":["io","i"]}],"mark":{"type":"rect","fill":"#B3B3B3","stroke":"white","strokeWidth":2},"encoding":{"x":{"field":"a","type":"quantitative","axis":null},"x2":{"field":"b"},"y":{"datum":218},"y2":{"datum":270}}},
{"transform":[{"filter":"datum.i!=''"},{"aggregate":[{"op":"min","field":"ih0","as":"a"},{"op":"max","field":"ih1","as":"b"}],"groupby":["io","i"]},{"calculate":"(datum.a+datum.b)/2","as":"c"}],"mark":{"type":"text","angle":270,"fontSize":11.5,"fill":"#3C3C3C"},"encoding":{"x":{"field":"c","type":"quantitative","axis":null},"y":{"datum":244},"text":{"field":"i"}}},
{"transform":[{"aggregate":[{"op":"min","field":"m0","as":"a"},{"op":"max","field":"m1","as":"b"}],"groupby":["mo","m","cls"]}],"mark":{"type":"rect","stroke":"white","strokeWidth":2},"encoding":{"x":{"field":"a","type":"quantitative","axis":null},"x2":{"field":"b"},"y":{"datum":0},"y2":{"datum":52},"fill":{"field":"cls","type":"nominal","scale":{"domain":["c0","c1","c2","c3","k"],"range":["#E84E10","#00963F","#009FDA","#F08A00","#4D4D4D"]},"legend":null}}},
{"transform":[{"aggregate":[{"op":"min","field":"m0","as":"a"},{"op":"max","field":"m1","as":"b"}],"groupby":["mo","m"]},{"calculate":"(datum.a+datum.b)/2","as":"c"}],"mark":{"type":"text","angle":270,"fontSize":12.5,"fill":"white"},"encoding":{"x":{"field":"c","type":"quantitative","axis":null},"y":{"datum":26},"text":{"field":"m"}}}
]},
{"title":{"text":"255","dx":-23},"width":513,"height":270,"data":{"name":"f"},"transform":[{"filter":"datum.p=='255'"},{"joinaggregate":[{"op":"sum","field":"n","as":"N"}]},{"joinaggregate":[{"op":"sum","field":"n","as":"ms"}],"groupby":["mo"]},{"window":[{"op":"sum","field":"n","as":"ih1"}],"sort":[{"field":"io"},{"field":"mo"}],"frame":[null,0]},{"window":[{"op":"sum","field":"n","as":"m1"}],"sort":[{"field":"mo"},{"field":"io"}],"frame":[null,0]},{"calculate":"datum.ih1-datum.n","as":"ih0"},{"calculate":"datum.m1-datum.n","as":"m0"},{"calculate":"datum.ms>2?'c'+datum.mo:'k'","as":"cls"}],"layer":[
{"transform":[{"calculate":"min(0.514*abs(datum.m0-datum.ih0)*513/datum.N,125)","as":"h"},{"calculate":"215.5-max(18,90-datum.h)","as":"yb"},{"calculate":"[215.5,datum.yb,datum.yb-datum.h,54.5]","as":"ry"},{"calculate":"[datum.ih0,datum.ih0,datum.m0,datum.m0]","as":"rx"},{"flatten":["ry","rx"]},{"calculate":"datum.rx+datum.n","as":"rx2"}],"mark":{"type":"area","orient":"horizontal","fillOpacity":0.5,"stroke":"white","strokeWidth":0.8},"encoding":{"y":{"field":"ry","type":"quantitative","scale":{"domain":[0,270],"nice":false,"zero":false},"axis":{"values":[24.5,247],"labelExpr":"datum.value>150?'IH':'MLG'","title":null}},"x":{"field":"rx","type":"quantitative","stack":null,"scale":{"nice":false,"zero":true},"axis":null},"x2":{"field":"rx2"},"fill":{"field":"cls","type":"nominal","scale":{"domain":["c0","c1","c2","c3","k"],"range":["#E84E10","#00963F","#009FDA","#F08A00","#4D4D4D"]},"legend":null},"detail":[{"field":"io","type":"nominal"},{"field":"mo","type":"nominal"}]}},
{"transform":[{"aggregate":[{"op":"min","field":"ih0","as":"a"},{"op":"max","field":"ih1","as":"b"}],"groupby":["io","i"]}],"mark":{"type":"rect","fill":"#B3B3B3","stroke":"white","strokeWidth":2},"encoding":{"x":{"field":"a","type":"quantitative","axis":null},"x2":{"field":"b"},"y":{"datum":218},"y2":{"datum":270}}},
{"transform":[{"filter":"datum.i!=''"},{"aggregate":[{"op":"min","field":"ih0","as":"a"},{"op":"max","field":"ih1","as":"b"}],"groupby":["io","i"]},{"calculate":"(datum.a+datum.b)/2","as":"c"}],"mark":{"type":"text","angle":270,"fontSize":11.5,"fill":"#3C3C3C"},"encoding":{"x":{"field":"c","type":"quantitative","axis":null},"y":{"datum":244},"text":{"field":"i"}}},
{"transform":[{"aggregate":[{"op":"min","field":"m0","as":"a"},{"op":"max","field":"m1","as":"b"}],"groupby":["mo","m","cls"]}],"mark":{"type":"rect","stroke":"white","strokeWidth":2},"encoding":{"x":{"field":"a","type":"quantitative","axis":null},"x2":{"field":"b"},"y":{"datum":0},"y2":{"datum":52},"fill":{"field":"cls","type":"nominal","scale":{"domain":["c0","c1","c2","c3","k"],"range":["#E84E10","#00963F","#009FDA","#F08A00","#4D4D4D"]},"legend":null}}},
{"transform":[{"aggregate":[{"op":"min","field":"m0","as":"a"},{"op":"max","field":"m1","as":"b"}],"groupby":["mo","m"]},{"calculate":"(datum.a+datum.b)/2","as":"c"}],"mark":{"type":"text","angle":270,"fontSize":12.5,"fill":"white"},"encoding":{"x":{"field":"c","type":"quantitative","axis":null},"y":{"datum":26},"text":{"field":"m"}}}
]},
{"title":{"text":"285","dx":-23},"width":513,"height":270,"data":{"name":"f"},"transform":[{"filter":"datum.p=='285'"},{"joinaggregate":[{"op":"sum","field":"n","as":"N"}]},{"joinaggregate":[{"op":"sum","field":"n","as":"ms"}],"groupby":["mo"]},{"window":[{"op":"sum","field":"n","as":"ih1"}],"sort":[{"field":"io"},{"field":"mo"}],"frame":[null,0]},{"window":[{"op":"sum","field":"n","as":"m1"}],"sort":[{"field":"mo"},{"field":"io"}],"frame":[null,0]},{"calculate":"datum.ih1-datum.n","as":"ih0"},{"calculate":"datum.m1-datum.n","as":"m0"},{"calculate":"datum.ms>2?'c'+datum.mo:'k'","as":"cls"}],"layer":[
{"transform":[{"calculate":"min(0.514*abs(datum.m0-datum.ih0)*513/datum.N,125)","as":"h"},{"calculate":"215.5-max(18,90-datum.h)","as":"yb"},{"calculate":"[215.5,datum.yb,datum.yb-datum.h,54.5]","as":"ry"},{"calculate":"[datum.ih0,datum.ih0,datum.m0,datum.m0]","as":"rx"},{"flatten":["ry","rx"]},{"calculate":"datum.rx+datum.n","as":"rx2"}],"mark":{"type":"area","orient":"horizontal","fillOpacity":0.5,"stroke":"white","strokeWidth":0.8},"encoding":{"y":{"field":"ry","type":"quantitative","scale":{"domain":[0,270],"nice":false,"zero":false},"axis":{"values":[24.5,247],"labelExpr":"datum.value>150?'IH':'MLG'","title":null}},"x":{"field":"rx","type":"quantitative","stack":null,"scale":{"nice":false,"zero":true},"axis":null},"x2":{"field":"rx2"},"fill":{"field":"cls","type":"nominal","scale":{"domain":["c0","c1","c2","c3","k"],"range":["#E84E10","#00963F","#009FDA","#F08A00","#4D4D4D"]},"legend":null},"detail":[{"field":"io","type":"nominal"},{"field":"mo","type":"nominal"}]}},
{"transform":[{"aggregate":[{"op":"min","field":"ih0","as":"a"},{"op":"max","field":"ih1","as":"b"}],"groupby":["io","i"]}],"mark":{"type":"rect","fill":"#B3B3B3","stroke":"white","strokeWidth":2},"encoding":{"x":{"field":"a","type":"quantitative","axis":null},"x2":{"field":"b"},"y":{"datum":218},"y2":{"datum":270}}},
{"transform":[{"filter":"datum.i!=''"},{"aggregate":[{"op":"min","field":"ih0","as":"a"},{"op":"max","field":"ih1","as":"b"}],"groupby":["io","i"]},{"calculate":"(datum.a+datum.b)/2","as":"c"}],"mark":{"type":"text","angle":270,"fontSize":11.5,"fill":"#3C3C3C"},"encoding":{"x":{"field":"c","type":"quantitative","axis":null},"y":{"datum":244},"text":{"field":"i"}}},
{"transform":[{"aggregate":[{"op":"min","field":"m0","as":"a"},{"op":"max","field":"m1","as":"b"}],"groupby":["mo","m","cls"]}],"mark":{"type":"rect","stroke":"white","strokeWidth":2},"encoding":{"x":{"field":"a","type":"quantitative","axis":null},"x2":{"field":"b"},"y":{"datum":0},"y2":{"datum":52},"fill":{"field":"cls","type":"nominal","scale":{"domain":["c0","c1","c2","c3","k"],"range":["#E84E10","#00963F","#009FDA","#F08A00","#4D4D4D"]},"legend":null}}},
{"transform":[{"aggregate":[{"op":"min","field":"m0","as":"a"},{"op":"max","field":"m1","as":"b"}],"groupby":["mo","m"]},{"calculate":"(datum.a+datum.b)/2","as":"c"}],"mark":{"type":"text","angle":270,"fontSize":12.5,"fill":"white"},"encoding":{"x":{"field":"c","type":"quantitative","axis":null},"y":{"datum":26},"text":{"field":"m"}}}
]}
]}
